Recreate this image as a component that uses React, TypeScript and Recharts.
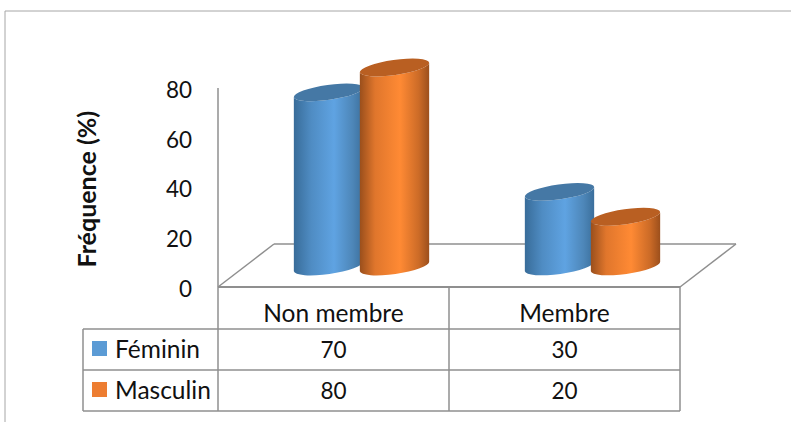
import React from 'react';
import { BarChart, Bar, XAxis, YAxis } from 'recharts';

const categories = ['Non membre', 'Membre'];
const feminin = [70, 30];
const masculin = [80, 20];
const yTicks = [0, 20, 40, 60, 80];

const rows = [
    { name: 'Féminin', values: feminin, swatch: '#5b9bd5' },
    { name: 'Masculin', values: masculin, swatch: '#ed7d31' },
];

const data = categories.map((name, i) => ({ name, feminin: feminin[i], masculin: masculin[i] }));

const FONT = 'Lato, sans-serif';
const GREY = '#8f8f8f';
const TEXT = '#111';
const WORD_SIZE = 24.5;
const DIGIT_SIZE = 22.5;

// Plot frame on the page
const LEFT = 218;
const RIGHT = 680;
const TOP = 88;
const BOTTOM = 287;
const COLS = [83, 218, 449, 680];
const ROW_Y = [287, 329, 370, 411];

// Floor depth, the bars stand halfway back on it
const FLOOR_DX = 56;
const FLOOR_DY = 43;
const DEPTH_X = 27.5;
const DEPTH_Y = 20.5;

const RX = 35;
const RY = 7.5;
const TILT = -8;

const Cylinder = (props: any) => {
    const { x, y, width, height, body, cap } = props;
    const cx = x + width / 2 + DEPTH_X;
    const top = y - DEPTH_Y;
    const bottom = y + height - DEPTH_Y;
    const dx = RX * Math.cos((TILT * Math.PI) / 180);
    const dy = RX * Math.sin((TILT * Math.PI) / 180);
    const d = `M${cx - dx},${top - dy} L${cx - dx},${bottom - dy} A${RX},${RY} ${TILT} 0 0 ${cx + dx},${bottom + dy} L${cx + dx},${top + dy} A${RX},${RY} ${TILT} 0 1 ${cx - dx},${top - dy} Z`;
    return (
        <g>
            <path d={d} fill={body} />
            <ellipse cx={cx} cy={top} rx={RX} ry={RY} fill={cap} transform={`rotate(${TILT} ${cx} ${top})`} />
        </g>
    );
};

const line = (x1: number, y1: number, x2: number, y2: number, key: string) => (
    <line key={key} x1={x1} y1={y1} x2={x2} y2={y2} stroke={GREY} strokeWidth={1.5} />
);

const Backdrop = () => (
    <svg width={791} height={422} style={{ position: 'absolute', left: 0, top: 0 }}>
        {/* outer frame */}
        <line x1={5} y1={11} x2={791} y2={11} stroke="#a6a6a6" strokeWidth={1} />
        <line x1={5} y1={11} x2={5} y2={422} stroke="#a6a6a6" strokeWidth={1} />

        {/* floor */}
        {line(LEFT, BOTTOM, LEFT + FLOOR_DX, BOTTOM - FLOOR_DY, 'fl')}
        {line(LEFT + FLOOR_DX, BOTTOM - FLOOR_DY, RIGHT + FLOOR_DX, BOTTOM - FLOOR_DY, 'fb')}
        {line(RIGHT + FLOOR_DX, BOTTOM - FLOOR_DY, RIGHT, BOTTOM, 'fr')}

        {/* data table */}
        {line(COLS[0], ROW_Y[1], RIGHT, ROW_Y[1], 'r1')}
        {line(COLS[0], ROW_Y[2], RIGHT, ROW_Y[2], 'r2')}
        {line(COLS[0], ROW_Y[3], RIGHT, ROW_Y[3], 'r3')}
        {line(COLS[0], ROW_Y[1], COLS[0], ROW_Y[3], 'c0')}
        {line(COLS[1], ROW_Y[0], COLS[1], ROW_Y[3], 'c1')}
        {line(COLS[2], ROW_Y[0], COLS[2], ROW_Y[3], 'c2')}
        {line(COLS[3], ROW_Y[0], COLS[3], ROW_Y[3], 'c3')}

        {rows.map((row, r) => (
            <g key={row.name} fontFamily={FONT} fill={TEXT}>
                <rect x={92} y={ROW_Y[r + 1] + 12} width={15} height={15} fill={row.swatch} />
                <text x={115} y={ROW_Y[r + 1] + 29} fontSize={WORD_SIZE}>{row.name}</text>
                {row.values.map((v, c) => (
                    <text key={c} x={(COLS[c + 1] + COLS[c + 2]) / 2} y={ROW_Y[r + 1] + 29} fontSize={DIGIT_SIZE} textAnchor="middle">{v}</text>
                ))}
            </g>
        ))}
    </svg>
);

export default function App() {
    return (
        <div style={{ position: 'absolute', left: 0, top: 0, width: 791, height: 422, background: '#fff', overflow: 'hidden' }}>
            <Backdrop />
            <div style={{ position: 'absolute', left: 0, top: 0 }}>
                <BarChart
                    width={791}
                    height={422}
                    data={data}
                    barSize={70}
                    barGap={-4}
                    margin={{ top: TOP, right: 791 - RIGHT, bottom: 422 - BOTTOM - 42, left: LEFT - 120 }}
                >
                    <defs>
                        <linearGradient id="cylBlue" x1="0" y1="0" x2="1" y2="0">
                            <stop offset="0%" stopColor="#386c99" />
                            <stop offset="25%" stopColor="#4f8cc3" />
                            <stop offset="58%" stopColor="#5fa3e2" />
                            <stop offset="85%" stopColor="#4d86b8" />
                            <stop offset="100%" stopColor="#3b6f9c" />
                        </linearGradient>
                        <linearGradient id="cylOrange" x1="0" y1="0" x2="1" y2="0">
                            <stop offset="0%" stopColor="#9a4f1c" />
                            <stop offset="22%" stopColor="#e0762c" />
                            <stop offset="58%" stopColor="#ff8a34" />
                            <stop offset="85%" stopColor="#cc6b27" />
                            <stop offset="100%" stopColor="#9c4f1c" />
                        </linearGradient>
                    </defs>
                    <XAxis
                        dataKey="name"
                        height={42}
                        axisLine={{ stroke: GREY, strokeWidth: 2 }}
                        tickLine={false}
                        tickMargin={12}
                        tick={{ fontFamily: FONT, fontSize: WORD_SIZE, fill: TEXT }}
                    />
                    <YAxis
                        width={120}
                        domain={[0, 80]}
                        ticks={yTicks}
                        interval={0}
                        axisLine={{ stroke: GREY, strokeWidth: 1.5 }}
                        tickLine={false}
                        tickSize={0}
                        tickMargin={26}
                        tick={{ fontFamily: FONT, fontSize: DIGIT_SIZE, fill: TEXT, dy: 2 }}
                        label={{
                            value: 'Fréquence (%)',
                            angle: -90,
                            position: 'insideLeft',
                            offset: -11,
                            dy: 80,
                            style: { fontFamily: FONT, fontSize: 25, fontWeight: 700, fill: TEXT },
                        }}
                    />
                    <Bar
                        dataKey="feminin"
                        isAnimationActive={false}
                        shape={(p: any) => <Cylinder {...p} body="url(#cylBlue)" cap="#4578a5" />}
                    />
                    <Bar
                        dataKey="masculin"
                        isAnimationActive={false}
                        shape={(p: any) => <Cylinder {...p} body="url(#cylOrange)" cap="#b95f22" />}
                    />
                </BarChart>
            </div>
        </div>
    );
}
